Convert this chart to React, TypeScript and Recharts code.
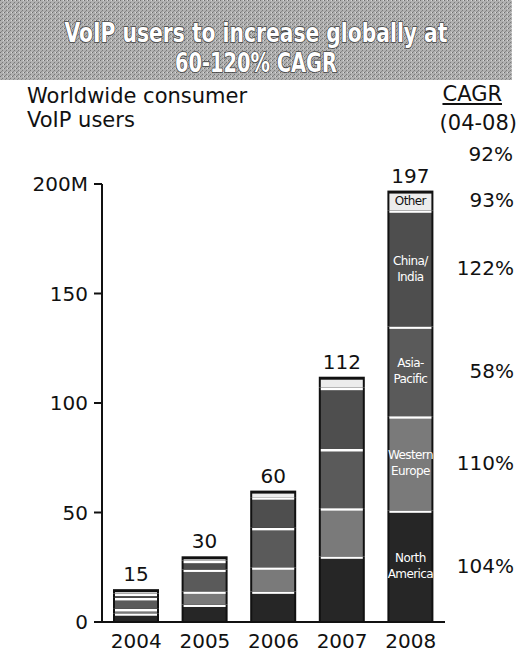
import { BarChart, Bar, XAxis, YAxis, LabelList } from 'recharts';

const years = ['2004', '2005', '2006', '2007', '2008'];
// stacked from the bottom up, millions of users
const northAmerica = [4, 8, 14, 30, 51];
const westernEurope = [2, 6, 11, 22, 43];
const asiaPacific = [5, 10, 18, 27, 41];
const chinaIndia = [2, 4, 14, 28, 53];
const other = [2, 2, 3, 5, 9];

const seriesNames = ['North America', 'Western Europe', 'Asia-Pacific', 'China/India', 'Other'];
const segmentLines = [['North', 'America'], ['Western', 'Europe'], ['Asia-', 'Pacific'], ['China/', 'India'], ['Other']];
const cagr = ['104%', '110%', '58%', '122%', '93%'];
const totalCagr = '92%';
const yTicks = [0, 50, 100, 150, 200];

const data = years.map((year, i) => ({
  year,
  na: northAmerica[i],
  we: westernEurope[i],
  ap: asiaPacific[i],
  ci: chinaIndia[i],
  other: other[i],
  total: northAmerica[i] + westernEurope[i] + asiaPacific[i] + chinaIndia[i] + other[i],
}));

const keys = ['na', 'we', 'ap', 'ci', 'other'];
const fills = ['#262626', '#7a7a7a', '#5a5a5a', '#4e4e4e', '#ececec'];
const font = '"DejaVu Sans", Verdana, sans-serif';
const last = years.length - 1;

const makeShape = (fill: string, isTop: boolean) => (props: any) => {
  const { x, y, width, height } = props;
  if (!height || height <= 0) return <g />;
  return (
    <g>
      <rect x={x} y={y} width={width} height={height} fill="#111" />
      <rect x={x + 2} y={y + (isTop ? 3 : 0)} width={width - 4} height={Math.max(0, height - (isTop ? 3 : 0))} fill={fill} />
      {!isTop && <rect x={x + 2} y={y} width={width - 4} height={2.5} fill="#fff" />}
    </g>
  );
};

// names inside the 2008 column plus the CAGR column at the right edge
const makeSideLabel = (s: number) => (props: any) => {
  const { x, y, width, height, index } = props;
  if (index !== last) return null;
  const cy = y + height / 2;
  const lines = segmentLines[s];
  const isOther = s === keys.length - 1;
  return (
    <g>
      {lines.map((t, k) => (
        <text
          key={t}
          x={x + width / 2}
          y={cy + (k - (lines.length - 1) / 2) * 16}
          dy="0.35em"
          textAnchor="middle"
          fontFamily={font}
          fontSize={12}
          letterSpacing={-0.6}
          fill={isOther ? '#111' : '#fff'}
        >
          {t}
        </text>
      ))}
      <text x={514} y={cy} dy="0.35em" textAnchor="end" fontFamily={font} fontSize={20} fill="#111">
        {cagr[s]}
      </text>
    </g>
  );
};

const TotalLabel = (props: any) => {
  const { x, y, width, index } = props;
  const total = data[index].total;
  return (
    <g>
      <text x={x + width / 2} y={y - 15} dy="0.35em" textAnchor="middle" fontFamily={font} fontSize={20} fill="#111">
        {total}
      </text>
      {index === last && (
        <text x={513} y={y - 37} dy="0.35em" textAnchor="end" fontFamily={font} fontSize={20} fill="#111">
          {totalCagr}
        </text>
      )}
    </g>
  );
};

const Banner = () => (
  <svg width={521} height={82} style={{ position: 'absolute', left: 0, top: 0 }}>
    <defs>
      <pattern id="halftone" width="4" height="4" patternUnits="userSpaceOnUse">
        <rect width="4" height="4" fill="#b0b0b0" />
        <rect x="0" y="0" width="1" height="1" fill="#6e6e6e" />
        <rect x="2" y="2" width="1" height="1" fill="#7a7a7a" />
        <rect x="3" y="0" width="1" height="1" fill="#d8d8d8" />
        <rect x="1" y="3" width="1" height="1" fill="#8a8a8a" />
      </pattern>
    </defs>
    <rect x={0} y={0} width={512} height={80} fill="url(#halftone)" />
    <g fontFamily={font} fontWeight="bold" fontSize={20} fill="#fff" stroke="#444" strokeWidth={1.3} style={{ paintOrder: 'stroke' }}>
      <g transform="translate(256 42) scale(1 1.3)">
        <text x={0} y={0} textAnchor="middle" textLength={383} lengthAdjust="spacingAndGlyphs">
          VoIP users to increase globally at
        </text>
      </g>
      <g transform="translate(256 72) scale(1 1.3)">
        <text x={0} y={0} textAnchor="middle" textLength={162} lengthAdjust="spacingAndGlyphs">
          60-120% CAGR
        </text>
      </g>
    </g>
  </svg>
);

const textStyle = { position: 'absolute' as const, fontFamily: font, fontSize: 21, lineHeight: '24px', color: '#111', whiteSpace: 'nowrap' as const };

export default function App() {
  return (
    <div style={{ position: 'absolute', left: 0, top: 0, width: 521, height: 660, background: '#fff', overflow: 'hidden' }}>
      <BarChart
        width={521}
        height={660}
        data={data}
        margin={{ top: 184, right: 76, left: 8, bottom: 0 }}
        style={{ position: 'absolute', left: 0, top: 0 }}
      >
        <XAxis
          dataKey="year"
          height={38}
          axisLine={{ stroke: '#111', strokeWidth: 2 }}
          tickLine={false}
          tickSize={0}
          tickMargin={12}
          tick={{ fontFamily: font, fontSize: 20, fill: '#111' }}
          interval={0}
        />
        <YAxis
          width={94}
          domain={[0, 200]}
          ticks={yTicks}
          tickFormatter={(v: number) => (v === 200 ? '200M' : String(v))}
          axisLine={{ stroke: '#111', strokeWidth: 2 }}
          tickLine={{ stroke: '#111', strokeWidth: 2 }}
          tickSize={8}
          tickMargin={6}
          tick={{ fontFamily: font, fontSize: 20, fill: '#111' }}
          allowDataOverflow
        />
        {keys.map((k, s) => (
          <Bar
            key={k}
            dataKey={k}
            name={seriesNames[s]}
            stackId="users"
            barSize={46}
            isAnimationActive={false}
            shape={makeShape(fills[s], s === keys.length - 1)}
          >
            <LabelList dataKey={k} content={makeSideLabel(s)} />
            {s === keys.length - 1 && <LabelList dataKey="total" content={TotalLabel} />}
          </Bar>
        ))}
      </BarChart>
      <Banner />
      <div style={{ ...textStyle, left: 27, top: 84 }}>Worldwide consumer</div>
      <div style={{ ...textStyle, left: 27, top: 108 }}>VoIP users</div>
      <div style={{ ...textStyle, right: 19, top: 82, textDecoration: 'underline' }}>CAGR</div>
      <div style={{ ...textStyle, right: 4, top: 111 }}>(04-08)</div>
    </div>
  );
}
